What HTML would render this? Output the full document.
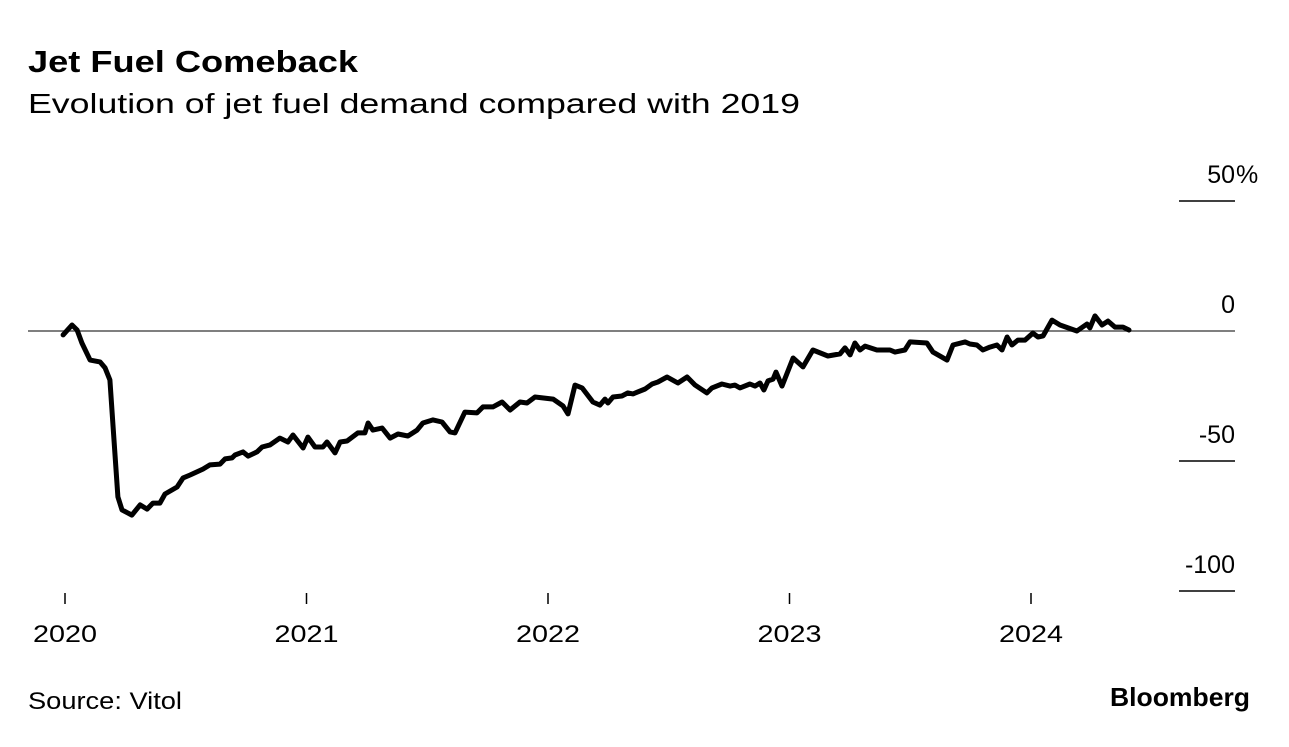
<!DOCTYPE html>
<html><head><meta charset="utf-8"><style>
body{margin:0;background:#fff;width:1289px;height:742px;overflow:hidden;font-family:"Liberation Sans",sans-serif;}
svg text{font-family:"Liberation Sans",sans-serif;}
</style></head><body>
<svg width="1289" height="742">
<text x="28" y="72" font-size="31" font-weight="bold" fill="#000" textLength="330" lengthAdjust="spacingAndGlyphs">Jet Fuel Comeback</text>
<text x="28" y="113" font-size="28" fill="#000" textLength="772" lengthAdjust="spacingAndGlyphs">Evolution of jet fuel demand compared with 2019</text>
<g id="yaxis"></g>
<g id="xaxis"></g>
<path id="line" fill="none" stroke="#000" stroke-width="5" stroke-linejoin="round" stroke-linecap="round"/>
<text x="28" y="709" font-size="24" fill="#000" textLength="154" lengthAdjust="spacingAndGlyphs">Source: Vitol</text>
<text x="1110" y="706" font-size="26" font-weight="bold" fill="#000" textLength="140" lengthAdjust="spacingAndGlyphs">Bloomberg</text>
</svg>
<script>
const yTicks=[50,0,-50,-100];
const yTickLabels=["50%","0","-50","-100"];
const xTicks=[2020,2021,2022,2023,2024];
const xTickLabels=["2020","2021","2022","2023","2024"];
const dates=[-0.008,0.029,0.050,0.070,0.104,0.145,0.166,0.186,0.199,0.219,0.236,0.277,0.311,0.340,0.364,0.393,0.414,0.464,0.489,0.518,0.571,0.600,0.642,0.663,0.692,0.704,0.737,0.758,0.795,0.816,0.849,0.890,0.923,0.944,0.986,1.006,1.035,1.068,1.085,1.118,1.139,1.168,1.213,1.242,1.255,1.275,1.313,1.346,1.379,1.420,1.458,1.482,1.524,1.561,1.594,1.615,1.656,1.706,1.731,1.772,1.810,1.843,1.884,1.913,1.946,2.021,2.062,2.083,2.112,2.141,2.186,2.215,2.236,2.248,2.269,2.306,2.331,2.352,2.402,2.431,2.455,2.493,2.538,2.576,2.609,2.658,2.679,2.720,2.754,2.774,2.795,2.836,2.857,2.878,2.894,2.911,2.932,2.944,2.969,3.015,3.056,3.097,3.159,3.209,3.230,3.251,3.271,3.292,3.313,3.362,3.416,3.437,3.478,3.499,3.569,3.594,3.652,3.677,3.727,3.747,3.776,3.801,3.830,3.859,3.880,3.901,3.921,3.946,3.975,4.008,4.029,4.050,4.087,4.120,4.190,4.232,4.244,4.265,4.294,4.319,4.348,4.381,4.406];
const values=[-1.5,2.3,0.4,-4.6,-11.2,-11.9,-14.2,-18.8,-36.9,-63.8,-68.8,-70.8,-66.9,-68.5,-66.2,-66.2,-62.7,-60.0,-56.5,-55.4,-53.1,-51.5,-51.2,-49.2,-48.8,-47.7,-46.5,-48.1,-46.5,-44.6,-43.8,-41.2,-42.7,-40.0,-45.0,-40.8,-44.6,-44.6,-42.7,-46.9,-42.7,-42.3,-39.2,-39.2,-35.4,-38.1,-37.3,-41.2,-39.6,-40.4,-38.1,-35.4,-34.2,-35.0,-38.8,-39.2,-31.2,-31.5,-29.2,-29.2,-27.3,-30.4,-27.3,-27.7,-25.4,-26.2,-28.8,-31.9,-20.8,-21.9,-27.3,-28.5,-26.2,-27.7,-25.4,-25.0,-23.8,-24.2,-22.3,-20.4,-19.6,-17.7,-20.0,-17.7,-20.8,-23.8,-21.9,-20.4,-21.2,-20.8,-21.9,-20.4,-21.2,-20.0,-22.7,-19.2,-18.5,-15.8,-21.2,-10.4,-13.8,-7.3,-9.6,-8.8,-6.5,-9.2,-4.6,-7.3,-5.8,-7.3,-7.3,-8.1,-7.3,-4.2,-4.6,-8.1,-11.2,-5.4,-4.2,-5.0,-5.4,-7.3,-6.2,-5.4,-7.3,-2.3,-5.4,-3.5,-3.5,-0.8,-2.3,-1.9,4.2,2.3,0.0,2.7,1.2,5.8,2.3,3.8,1.5,1.5,0.4];

const NS="http://www.w3.org/2000/svg";
const xScale=t=>65+(t-2020)*241.5;
const yScale=v=>331-v*2.6;
const ya=document.getElementById('yaxis'), xa=document.getElementById('xaxis');
function mk(tag,attrs,parent){const e=document.createElementNS(NS,tag);for(const k in attrs)e.setAttribute(k,attrs[k]);parent.appendChild(e);return e;}
yTicks.forEach((v,i)=>{
  const y=yScale(v);
  let l;
  if(v===0){l=mk('line',{x1:28,x2:1235,y1:y,y2:y,stroke:'#555','stroke-width':1.5},ya);}
  else{l=mk('line',{x1:1179,x2:1235,y1:y,y2:y,stroke:'#000','stroke-width':1.5},ya);}
  
  
  const lab=yTickLabels[i];
  const hasPct=lab.endsWith('%');
  const t=mk('text',{x:1235,y:y-18,'font-size':25,'text-anchor':'end',fill:'#000'},ya);
  t.textContent=hasPct?lab.slice(0,-1):lab;
  
  
  if(hasPct){
    const p=mk('text',{x:1236,y:y-18,'font-size':25,'text-anchor':'start',fill:'#000'},ya);
    p.textContent='%';
    
    
  }
});
xTicks.forEach((yr,i)=>{
  const x=xScale(yr);
  const l=mk('line',{x1:x,x2:x,y1:593,y2:604,stroke:'#000','stroke-width':1.5},xa);
  
  
  const t=mk('text',{x:x,y:642,'font-size':24,'text-anchor':'middle',fill:'#000',textLength:64,lengthAdjust:'spacingAndGlyphs'},xa);
  t.textContent=xTickLabels[i];
  
  
});
let d='';
dates.forEach((t,i)=>{d+=(i?'L':'M')+xScale(2020+t).toFixed(1)+','+yScale(values[i]).toFixed(1);});
document.getElementById('line').setAttribute('d',d);
</script>
</body></html>
